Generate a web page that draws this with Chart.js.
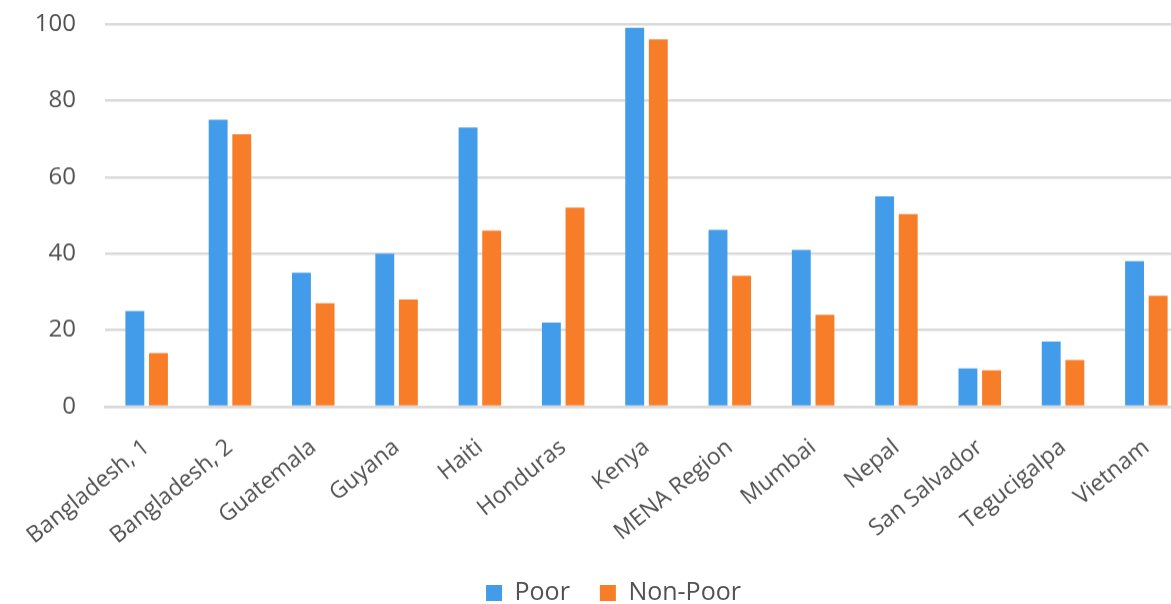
<!DOCTYPE html>
<html>
<head>
<meta charset="utf-8">
<script src="https://cdn.jsdelivr.net/npm/chart.js@4/dist/chart.umd.min.js"></script>
<style>
html,body{margin:0;padding:0;background:#fff;overflow:hidden;}
#wrap{position:absolute;left:0;top:0;width:1227px;height:614.5px;}
</style>
</head>
<body>
<div id="wrap"><canvas id="c"></canvas></div>
<script>
const categories = ["Bangladesh, 1","Bangladesh, 2","Guatemala","Guyana","Haiti","Honduras","Kenya","MENA Region","Mumbai","Nepal","San Salvador","Tegucigalpa","Vietnam"];
const poorValues = [25, 75, 35, 40, 73, 22, 99, 46.2, 41, 55, 10, 17, 38];
const nonPoorValues = [14, 71.2, 27, 28, 46, 52, 96, 34.2, 24, 50.3, 9.5, 12.2, 29];
const seriesNames = ["Poor", "Non-Poor"];
const yTicks = [0, 20, 40, 60, 80, 100];

const textColor = "#525252";
const fontFamily = "'Open Sans', 'Noto Sans', sans-serif";

new Chart(document.getElementById("c"), {
  type: "bar",
  data: {
    labels: categories,
    datasets: [
      { label: seriesNames[0], data: poorValues, backgroundColor: "#439CEA", borderWidth: 0,
        categoryPercentage: 0.567, barPercentage: 0.8 },
      { label: seriesNames[1], data: nonPoorValues, backgroundColor: "#F87D28", borderWidth: 0,
        categoryPercentage: 0.567, barPercentage: 0.8 }
    ]
  },
  options: {
    responsive: true,
    maintainAspectRatio: false,
    animation: false,
    layout: { padding: { left: 0, right: 0, top: 24, bottom: 0 } },
    plugins: {
      tooltip: { enabled: false },
      legend: {
        position: "bottom",
        labels: {
          color: textColor,
          font: { family: fontFamily, size: 25 },
          boxWidth: 16, boxHeight: 16, padding: 30
        }
      }
    },
    scales: {
      x: {
        grid: { display: false, drawTicks: false },
        border: { display: true, color: "#d9d9d9", width: 2.5 },
        ticks: {
          color: textColor,
          font: { family: fontFamily, size: 23 },
          maxRotation: 39, minRotation: 39, padding: 27, autoSkip: false
        },
        afterFit(scale) { scale.height = 143.5; scale.paddingLeft = 0; scale.paddingRight = 39; }
      },
      y: {
        min: 0, max: 100,
        afterBuildTicks(scale) { scale.ticks = yTicks.map(v => ({ value: v })); },
        grid: { color: "#d9d9d9", lineWidth: 2.5, drawTicks: false },
        border: { display: false },
        ticks: {
          color: textColor,
          font: { family: fontFamily, size: 24 },
          padding: 29
        },
        afterFit(scale) { scale.width = 105; scale.paddingTop = 0; scale.paddingBottom = 0; }
      }
    }
  }
});
</script>
</body>
</html>
